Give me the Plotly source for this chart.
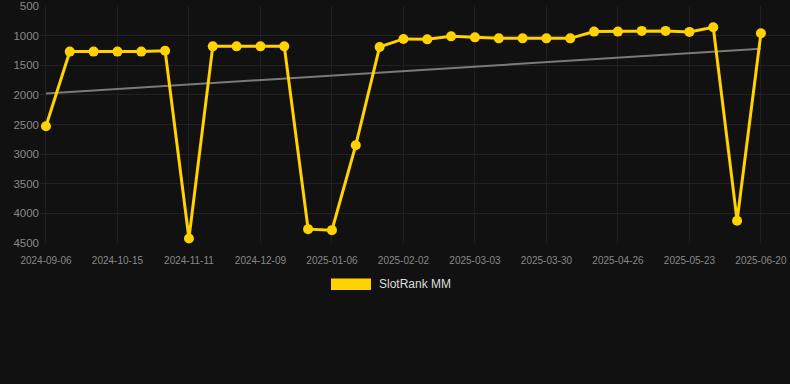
import numpy as np
import plotly.graph_objects as go

dates = [
    "2024-09-06", "2024-09-19", "2024-10-02", "2024-10-15", "2024-10-24", "2024-11-02",
    "2024-11-11", "2024-11-20", "2024-11-30", "2024-12-09", "2024-12-18", "2024-12-27",
    "2025-01-06", "2025-01-15", "2025-01-24", "2025-02-02", "2025-02-12", "2025-02-21",
    "2025-03-03", "2025-03-12", "2025-03-21", "2025-03-30", "2025-04-08", "2025-04-17",
    "2025-04-26", "2025-05-05", "2025-05-14", "2025-05-23", "2025-06-01", "2025-06-10",
    "2025-06-20",
]
rank = [
    2530, 1270, 1270, 1270, 1270, 1255,
    4423, 1181, 1181, 1181, 1181, 4266,
    4283, 2849, 1191, 1056, 1063, 1012,
    1029, 1046, 1046, 1046, 1046, 932,
    932, 920, 920, 937, 860, 4125,
    961,
]
tick_labels = dates[::3]
y_ticks = [500, 1000, 1500, 2000, 2500, 3000, 3500, 4000, 4500]
series_name = "SlotRank MM"

idx = np.arange(len(rank))
slope, intercept = np.polyfit(idx, rank, 1)
trend = slope * idx + intercept

fig = go.Figure()
fig.add_trace(go.Scatter(
    x=dates, y=trend, mode="lines",
    line=dict(color="#7a7a7a", width=2),
    showlegend=False, hoverinfo="skip",
))
fig.add_trace(go.Scatter(
    x=dates, y=rank, mode="lines+markers", name=series_name,
    line=dict(color="#FFD200", width=3),
    marker=dict(color="#FFD200", size=10),
    showlegend=False, cliponaxis=False,
))

# legend drawn manually (rectangle swatch + label)
fig.add_shape(type="rect", xref="paper", yref="paper",
              x0=0.388, x1=0.4413, y0=-0.198, y1=-0.1497,
              fillcolor="#FFD200", line=dict(width=0))
fig.add_annotation(xref="paper", yref="paper", x=0.4493, y=-0.1738,
                   xanchor="left", yanchor="middle", showarrow=False,
                   text=series_name, font=dict(size=12, color="#dddddd"))

fig.update_layout(
    width=790, height=384,
    margin=dict(l=40, r=0, t=6, b=141),
    paper_bgcolor="#111111", plot_bgcolor="#111111",
    font=dict(family="Liberation Sans, Arial, sans-serif", color="#888888"),
    showlegend=False,
)
fig.update_xaxes(
    type="category", range=[-0.25, 31.22],
    tickvals=tick_labels, ticktext=tick_labels,
    tickfont=dict(size=10, color="#888888"),
    showgrid=True, gridcolor="#1f1f1f", gridwidth=1,
    zeroline=False, showline=False, ticks="", ticklabelstandoff=10,
)
fig.update_yaxes(
    range=[4500, 500], tickvals=y_ticks,
    tickfont=dict(size=11.5, color="#888888"),
    showgrid=True, gridcolor="#222222", gridwidth=1,
    zeroline=False, showline=False, ticks="",
)

fig.write_html(
    "out.html",
    config={"displayModeBar": False},
    post_script="document.body.style.margin='0';document.body.style.background='#111111';",
)
